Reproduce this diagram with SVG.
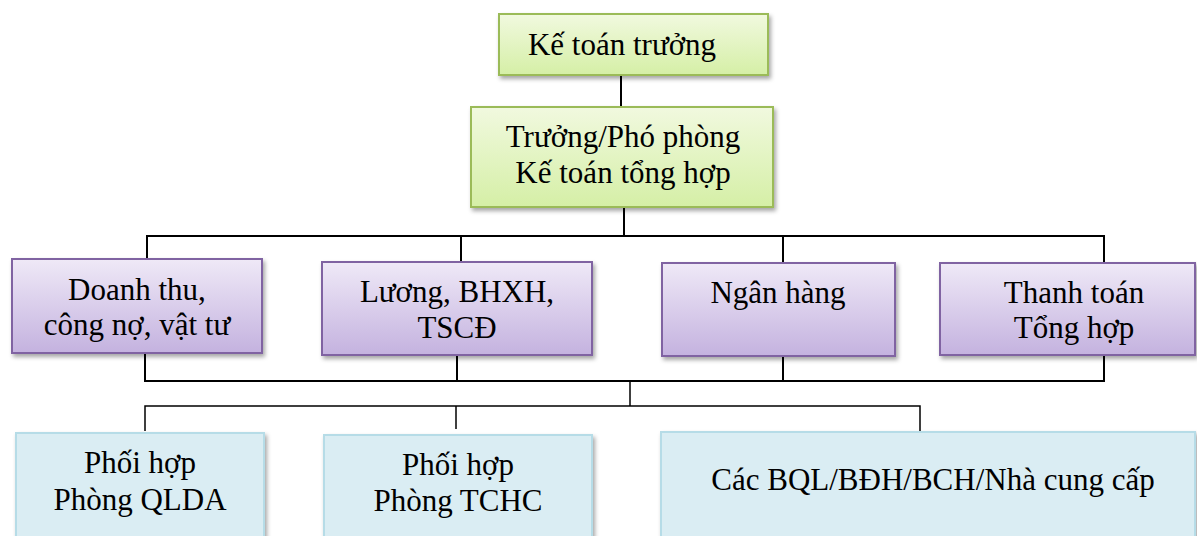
<svg xmlns="http://www.w3.org/2000/svg" width="1197" height="536" viewBox="0 0 1197 536">
<defs>
<linearGradient id="gGreen" x1="0" y1="0" x2="0" y2="1"><stop offset="0" stop-color="#f1f9df"/><stop offset="1" stop-color="#d5efa6"/></linearGradient>
<linearGradient id="gPurple" x1="0" y1="0" x2="0" y2="1"><stop offset="0" stop-color="#efe9f7"/><stop offset="1" stop-color="#c4b2df"/></linearGradient>
<filter id="sh" x="-10%" y="-10%" width="120%" height="130%"><feDropShadow dx="2" dy="3" stdDeviation="2" flood-color="#000" flood-opacity="0.35"/></filter>
<style>
.green{fill:url(#gGreen);stroke:#9bbb59;stroke-width:2;filter:url(#sh)}
.purple{fill:url(#gPurple);stroke:#8064a2;stroke-width:2;filter:url(#sh)}
.blue{fill:#daedf3;stroke:#b6dce7;stroke-width:2;filter:url(#sh)}
.t{font-family:'Liberation Serif',serif;font-size:31px;fill:#000;text-anchor:middle}
.c{stroke:#000;stroke-width:2;fill:none}
.c2{stroke:#000;stroke-width:1.5;fill:none}
</style>
</defs>
<rect width="1197" height="536" fill="#fff"/>
<g id="connectors">
<line class="c" x1="621" y1="75" x2="621" y2="107"/>
<line class="c" x1="624" y1="207" x2="624" y2="236"/>
<polyline class="c" points="147,260 147,236 1104,236 1104,263"/>
<line class="c" x1="461" y1="236" x2="461" y2="262"/>
<line class="c" x1="783" y1="236" x2="783" y2="263"/>
<polyline class="c" points="145,353 145,381 1104,381 1104,355"/>
<line class="c" x1="457" y1="355" x2="457" y2="381"/>
<line class="c" x1="783" y1="356" x2="783" y2="381"/>
<line class="c2" x1="630" y1="381" x2="630" y2="406"/>
<polyline class="c2" points="145,431 145,406 920,406 920,432"/>
<line class="c2" x1="456" y1="406" x2="456" y2="429"/>
</g>
<g font-family="Liberation Serif">
<g id="n-ketoantruong">
<rect class="green" x="499" y="14" width="269" height="61"/>
<text class="t" font-family="Liberation Serif" x="622" y="55">Kế toán trưởng</text>
</g>
<g id="n-truongphophong">
<rect class="green" x="471" y="107" width="302" height="100"/>
<text class="t" font-family="Liberation Serif" x="623" y="147">Trưởng/Phó phòng</text>
<text class="t" font-family="Liberation Serif" x="623" y="183">Kế toán tổng hợp</text>
</g>
<g id="n-doanhthu">
<rect class="purple" x="12" y="259" width="250" height="94"/>
<text class="t" font-family="Liberation Serif" x="137" y="300">Doanh thu,</text>
<text class="t" font-family="Liberation Serif" x="137" y="335">công nợ, vật tư</text>
</g>
<g id="n-luong">
<rect class="purple" x="322" y="262" width="270" height="93"/>
<text class="t" font-family="Liberation Serif" x="457" y="302">Lương, BHXH,</text>
<text class="t" font-family="Liberation Serif" x="457" y="338">TSCĐ</text>
</g>
<g id="n-nganhang">
<rect class="purple" x="662" y="263" width="233" height="93"/>
<text class="t" font-family="Liberation Serif" x="778" y="303">Ngân hàng</text>
</g>
<g id="n-thanhtoan">
<rect class="purple" x="940" y="263" width="255" height="92"/>
<text class="t" font-family="Liberation Serif" x="1074" y="303">Thanh toán</text>
<text class="t" font-family="Liberation Serif" x="1074" y="338">Tổng hợp</text>
</g>
<g id="n-qlda">
<rect class="blue" x="16" y="433" width="248" height="112"/>
<text class="t" font-family="Liberation Serif" x="140" y="473">Phối hợp</text>
<text class="t" font-family="Liberation Serif" x="140" y="510">Phòng QLDA</text>
</g>
<g id="n-tchc">
<rect class="blue" x="324" y="435" width="268" height="110"/>
<text class="t" font-family="Liberation Serif" x="458" y="475">Phối hợp</text>
<text class="t" font-family="Liberation Serif" x="458" y="511">Phòng TCHC</text>
</g>
<g id="n-bql">
<rect class="blue" x="661" y="432" width="534" height="113"/>
<text class="t" font-family="Liberation Serif" x="933" y="490">Các BQL/BĐH/BCH/Nhà cung cấp</text>
</g>
</g>
</svg>
